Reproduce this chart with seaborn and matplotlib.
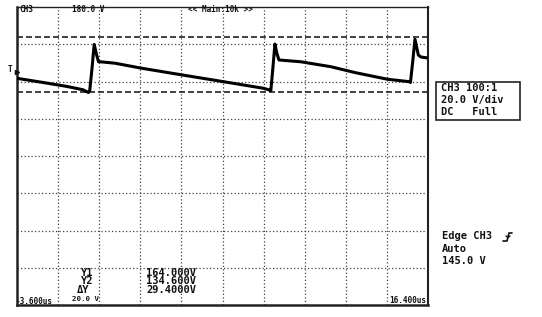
import matplotlib
matplotlib.use("Agg")
import matplotlib.pyplot as plt
from matplotlib.lines import Line2D
from matplotlib.patches import Rectangle
import seaborn as sns
import pandas as pd

# ---- data (time in microseconds, voltage in volts) ----
time_us = [-3.60, -2.40, -1.20, -0.40, -0.122, -0.063, 0.05, 0.156, 0.263, 0.366,
           0.449, 1.18, 2.40, 4.449, 6.449, 8.40, 8.693, 8.75, 8.85, 8.951,
           9.05, 9.146, 10.205, 11.668, 12.888, 14.434, 15.488, 15.546, 15.65,
           15.766, 15.93, 16.06, 16.40]
volts = [141.7, 139.6, 137.4, 135.6, 134.1, 134.9, 147.0, 159.9, 154.8, 150.6,
         150.6, 149.8, 147.25, 143.5, 139.9, 136.35, 135.4, 135.0, 147.0, 160.1,
         155.0, 151.55, 150.6, 147.95, 144.7, 141.2, 139.9, 139.5, 150.0,
         162.7, 154.2, 153.15, 152.6]

t_min, t_max = -3.6, 16.4
v_min, v_max = 20.0, 180.0
grid_t = [-1.6, 0.4, 2.4, 4.4, 6.4, 8.4, 10.4, 12.4, 14.4]
grid_v = [40, 60, 80, 100, 120, 140, 160]
cursor_y1 = 164.0
cursor_y2 = 134.6
trigger_level = 145.0

W, H = 542, 317
sns.set_theme(style="white")
plt.rcParams["font.family"] = ["DejaVu Sans Mono", "DejaVu Sans"]

fig = plt.figure(figsize=(W / 100, H / 100), dpi=100)
fig.patch.set_facecolor("white")
ax = fig.add_axes([17 / W, (H - 305) / H, 411 / W, 298 / H])

df = pd.DataFrame({"t": time_us, "v": volts})
sns.lineplot(data=df, x="t", y="v", ax=ax, color="black", lw=2.2,
             estimator=None, sort=False, zorder=5)

ax.set_xlim(t_min, t_max)
ax.set_ylim(v_min, v_max)
ax.set_xticks(grid_t)
ax.set_yticks(grid_v)
ax.tick_params(length=0, labelbottom=False, labelleft=False)
ax.set_xlabel("")
ax.set_ylabel("")
ax.grid(True, linestyle=(0, (1, 1.8)), color="#444444", lw=0.9)

for v in (cursor_y1, cursor_y2):
    ax.axhline(v, color="#222222", lw=1.2, linestyle=(0, (3.6, 1.8)), zorder=4)

for side, lw in (("left", 1.8), ("bottom", 1.8), ("top", 1.0), ("right", 1.5)):
    ax.spines[side].set_color("#222222")
    ax.spines[side].set_linewidth(lw)
    ax.spines[side].set_visible(True)


def ftext(x, y, s, size, bold=False, ha="left"):
    fig.text(x / W, 1 - y / H, s, fontsize=size, ha=ha, va="center",
             fontweight="bold" if bold else "normal", color="#111111")


small = 5.6
big = 7.5
ftext(19, 10, "CH3", small, True)
ftext(72, 10, "180.0 V", small, True)
ftext(188, 10, "<< Main:10k >>", small, True)

# right info box
fig.add_artist(Rectangle((436 / W, 1 - 120 / H), 84 / W, 38.5 / H,
                         transform=fig.transFigure, fill=False,
                         edgecolor="#222222", lw=1.2))
ftext(441, 88, "CH3 100:1", big, True)
ftext(441, 100, "20.0 V/div", big, True)
ftext(441, 112, "DC   Full", big, True)

# trigger info
ftext(441.5, 236, "Edge CH3", big, True)
ftext(441.5, 249, "Auto", big, True)
ftext(441.5, 261, f"{trigger_level:.1f} V", big, True)
fig.add_artist(Line2D([503 / W, 507 / W, 509 / W, 512 / W],
                      [1 - 241 / H, 1 - 241 / H, 1 - 233 / H, 1 - 233 / H],
                      transform=fig.transFigure, color="#111111", lw=1.2))
fig.add_artist(Line2D([506 / W, 508 / W, 510 / W],
                      [1 - 236 / H, 1 - 237.5 / H, 1 - 236 / H],
                      transform=fig.transFigure, color="#111111", lw=1.0))

# trigger marker at the left
ftext(8, 69.5, "T", 5.5, True)
ax.plot([t_min], [trigger_level], marker=">", color="#111111", ms=3,
        clip_on=False, zorder=6, transform=ax.transData)

# cursor readouts
ftext(80.5, 272.5, "Y1", big, True)
ftext(80.5, 281.5, "Y2", big, True)
ftext(77, 290, "ΔY", big, True)
ftext(146, 272.5, f"{cursor_y1:.3f}V", big, True)
ftext(146, 281.5, f"{cursor_y2:.3f}V", big, True)
ftext(146, 290, f"{cursor_y1 - cursor_y2:.4f}V", big, True)

# time range labels
ftext(16, 301.5, "-3.600us", small, True)
ftext(71.5, 299, "20.0 V", 5.3, True)
ftext(426, 300.5, "16.400us", small, True, ha="right")

fig.savefig("out.png", dpi=100, facecolor="white")
